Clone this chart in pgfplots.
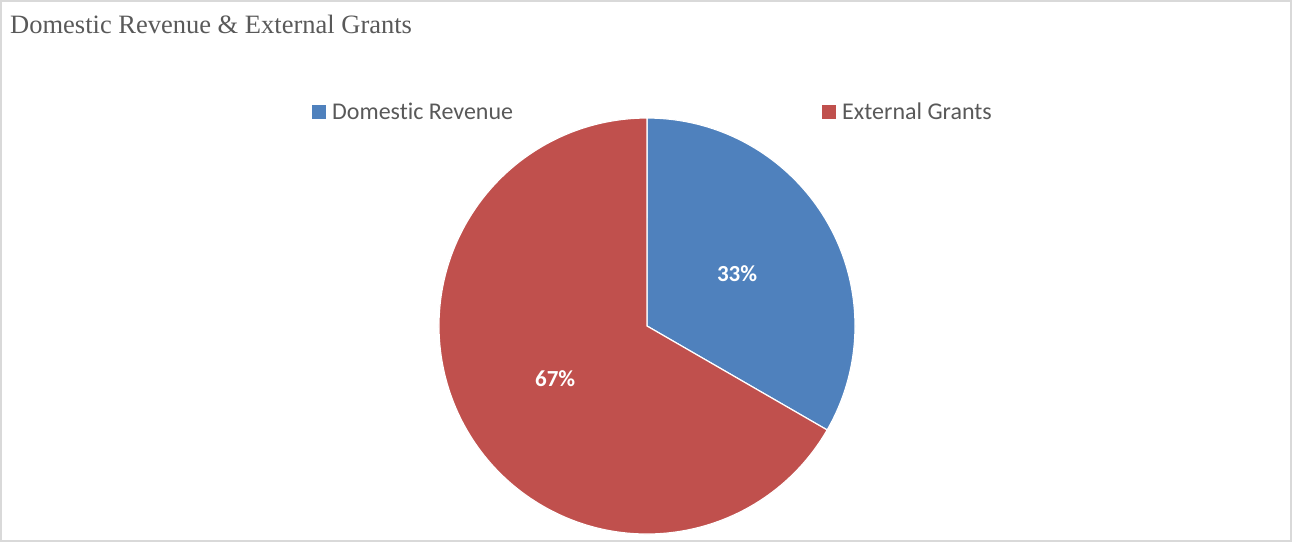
\documentclass[border=0pt]{standalone}
\usepackage{pgfplots}
\pgfplotsset{compat=1.18}
\usepackage{pgfplotstable}
\usetikzlibrary{calc}
\usepackage{fontspec}
\setmainfont{Liberation Serif}
\newfontfamily\carlito[Ligatures={NoCommon}]{Carlito}
\definecolor{domblue}{HTML}{4F81BD}
\definecolor{extred}{HTML}{C0504D}
\definecolor{txtgray}{HTML}{595959}
\definecolor{framegray}{HTML}{D9D9D9}
\pgfplotstableread{
share
33.33
66.67
}\pietable
\begin{document}
\begin{tikzpicture}
\pgfplotstablegetelem{0}{share}\of\pietable \let\sa\pgfplotsretval
\pgfplotstablegetelem{1}{share}\of\pietable \let\sb\pgfplotsretval
\pgfmathsetmacro\tot{\sa+\sb}
\pgfmathsetmacro\fa{\sa/\tot}
\pgfmathsetmacro\fb{\sb/\tot}
\pgfmathsetmacro\angA{90-360*\fa}
\pgfmathsetmacro\angB{\angA-360*\fb}
\pgfmathsetmacro\midA{(90+\angA)/2}
\pgfmathsetmacro\midB{(\angA+\angB)/2}
\pgfmathsetmacro\pa{100*\fa}
\pgfmathsetmacro\pb{100*\fb}
\begin{axis}[
  x=1pt, y=1pt,
  xmin=0, xmax=1292, ymin=0, ymax=542,
  hide axis, clip=false,
  /pgf/number format/assume math mode=true,
]
% frame
\draw[framegray, line width=1.2pt] (axis cs:1,1) rectangle (axis cs:1291,541);
% title
\node[anchor=base west, inner sep=0pt, text=txtgray, font=\fontsize{26.5}{30}\selectfont]
  at (axis cs:10,508) {Domestic Revenue \& External Grants};
% sectors
\fill[domblue, draw=white, line width=1.2pt] (axis cs:647,216) -- ++(90:208pt)
  arc[start angle=90, end angle=\angA, radius=208pt] -- cycle;
\fill[extred, draw=white, line width=1.2pt] (axis cs:647,216) -- ++(\angA:208pt)
  arc[start angle=\angA, end angle=\angB, radius=208pt] -- cycle;
% data labels
\node[text=white, font=\carlito\bfseries\fontsize{23}{26}\selectfont]
  at ($(axis cs:647,216)+(\midA:104pt)$) {\pgfmathprintnumber[fixed,precision=0,assume math mode=true]{\pa}\%};
\node[text=white, font=\carlito\bfseries\fontsize{23}{26}\selectfont]
  at ($(axis cs:647,216)+(\midB:106pt)$) {\pgfmathprintnumber[fixed,precision=0,assume math mode=true]{\pb}\%};
% legend
\fill[domblue] (axis cs:312,423) rectangle (axis cs:326,437);
\node[anchor=base west, inner sep=0pt, text=txtgray, font=\carlito\fontsize{24}{26}\selectfont]
  at (axis cs:332,423) {Domestic Revenue};
\fill[extred] (axis cs:822,423) rectangle (axis cs:836,437);
\node[anchor=base west, inner sep=0pt, text=txtgray, font=\carlito\fontsize{24}{26}\selectfont]
  at (axis cs:842,423) {External Grants};
\end{axis}
\pgfresetboundingbox
\useasboundingbox (current axis.south west) rectangle (current axis.north east);
\end{tikzpicture}
\end{document}
